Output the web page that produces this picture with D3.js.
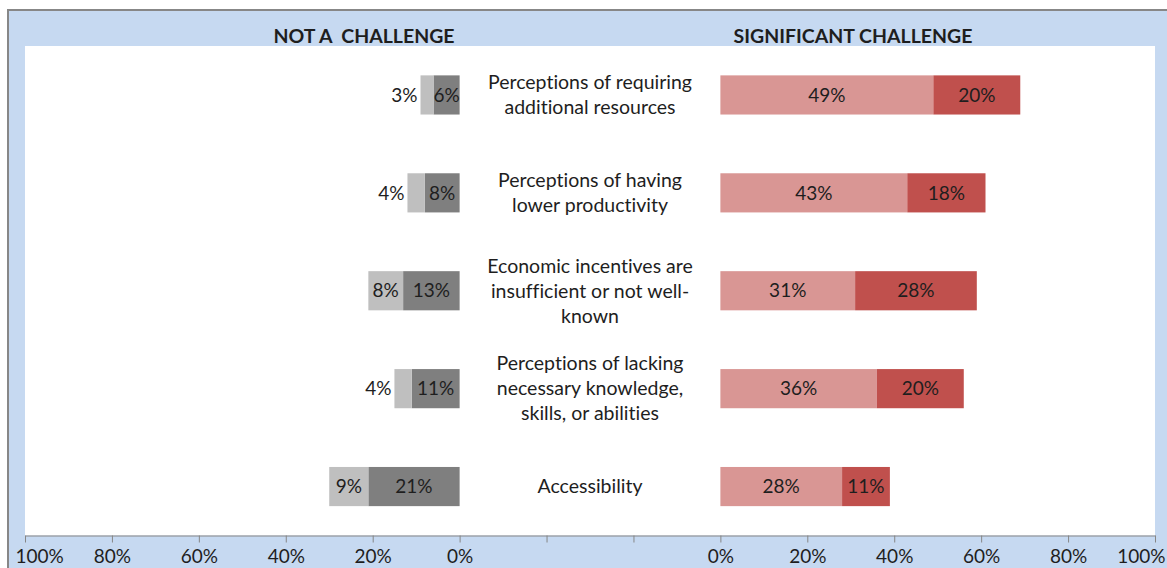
<!DOCTYPE html>
<html lang="en">
<head>
	<meta charset="UTF-8">
	<title>Challenges chart</title>
	<script type="text/javascript" src="https://d3js.org/d3.v7.min.js"></script>
	<style>
		body { margin: 0; background: #ffffff; }
		svg text { font-family: Lato, "Liberation Sans", sans-serif; fill: #1e1e1e; font-variant-ligatures: none; }
	</style>
</head>
<body>
	<script type="text/javascript">

		// data
		var categories = ["resources", "productivity", "incentives", "knowledge", "accessibility"];
		var categoryLines = [
			["Perceptions of requiring", "additional resources"],
			["Perceptions of having", "lower productivity"],
			["Economic incentives are", "insufficient or not well-", "known"],
			["Perceptions of lacking", "necessary knowledge,", "skills, or abilities"],
			["Accessibility"]
		];
		// not a challenge (left side): inner dark segment, outer light segment
		var notChallengeDark = [6, 8, 13, 11, 21];
		var notChallengeLight = [3, 4, 8, 4, 9];
		// significant challenge (right side): inner light segment, outer dark segment
		var sigChallengeLight = [49, 43, 31, 36, 28];
		var sigChallengeDark = [20, 18, 28, 20, 11];
		var tickLabels = ["100%", "80%", "60%", "40%", "20%", "0%", "", "", "0%", "20%", "40%", "60%", "80%", "100%"];
		var leftTitle = "NOT A  CHALLENGE";
		var rightTitle = "SIGNIFICANT CHALLENGE";

		var w = 1167;
		var h = 568;
		var fontSize = 19;

		var svg = d3.select("body")
					.append("svg")
					.attr("width", w)
					.attr("height", h);

		// chart area background + frame
		svg.append("rect")
			.attr("x", 8).attr("y", 10)
			.attr("width", w + 10).attr("height", h + 10)
			.attr("fill", "#c6d9f1")
			.attr("stroke", "#878787")
			.attr("stroke-width", 2);

		// plot area
		var plotLeft = 25, plotRight = 1155, plotTop = 46, plotBottom = 535.5;
		svg.append("rect")
			.attr("x", plotLeft).attr("y", plotTop)
			.attr("width", plotRight - plotLeft).attr("height", plotBottom - plotTop)
			.attr("fill", "#ffffff");

		// one continuous axis, 13 steps of 20%, the middle three hold the labels
		var pos = d3.scaleLinear()
					.domain([0, tickLabels.length - 1])
					.range([plotLeft, plotRight]);
		var leftScale = d3.scaleLinear().domain([0, 100]).range([pos(5), pos(0)]);
		var rightScale = d3.scaleLinear().domain([0, 100]).range([pos(8), pos(13)]);

		var y = d3.scaleBand()
					.domain(categories)
					.range([plotTop, plotBottom])
					.paddingInner(0.6)
					.paddingOuter(0.3);

		var axis = d3.axisBottom(pos)
					.tickValues(d3.range(tickLabels.length))
					.tickFormat(function(d){ return tickLabels[d]; })
					.tickSize(7)
					.tickSizeOuter(0);

		var gAxis = svg.append("g")
					.attr("transform", "translate(0," + plotBottom + ")")
					.call(axis);
		gAxis.select(".domain").attr("stroke", "#868686");
		gAxis.selectAll(".tick line").attr("stroke", "#868686");
		gAxis.selectAll(".tick text")
			.attr("y", 21)
			.attr("dy", "0.35em")
			.style("font-size", fontSize + "px")
			.attr("font-family", null)
			.attr("fill", "#1e1e1e");
		// edge labels are pushed inside the chart
		gAxis.selectAll(".tick text")
			.filter(function(d){ return d == 0; })
			.attr("text-anchor", "start").attr("x", -10);
		gAxis.selectAll(".tick text")
			.filter(function(d){ return d == tickLabels.length - 1; })
			.attr("text-anchor", "end").attr("x", 10);

		// titles
		svg.append("text")
			.attr("x", 364).attr("y", 36)
			.attr("dy", "0.35em")
			.attr("text-anchor", "middle")
			.style("white-space", "pre")
			.style("font-size", "19.5px")
			.style("font-weight", "bold")
			.text(leftTitle);
		svg.append("text")
			.attr("x", 853).attr("y", 36)
			.attr("dy", "0.35em")
			.attr("text-anchor", "middle")
			.style("font-size", "19.5px")
			.style("font-weight", "bold")
			.text(rightTitle);

		function addLabel(x, yy, txt, size){
			return svg.append("text")
				.attr("x", x).attr("y", yy)
				.attr("dy", "0.35em")
				.attr("text-anchor", "middle")
				.style("font-size", (size || fontSize) + "px")
				.text(txt);
		}

		for (var i = 0; i < categories.length; i++){
			var cat = categories[i];
			var barTop = y(cat);
			var bh = y.bandwidth();
			var cy = barTop + bh / 2;

			// left side
			var d1 = notChallengeDark[i], l1 = notChallengeLight[i];
			svg.append("rect")
				.attr("x", leftScale(d1)).attr("y", barTop)
				.attr("width", leftScale(0) - leftScale(d1)).attr("height", bh)
				.attr("fill", "#7f7f7f");
			svg.append("rect")
				.attr("x", leftScale(d1 + l1)).attr("y", barTop)
				.attr("width", leftScale(d1) - leftScale(d1 + l1)).attr("height", bh)
				.attr("fill", "#bfbfbf");
			addLabel((leftScale(0) + leftScale(d1)) / 2, cy, d1 + "%");
			var lt = addLabel((leftScale(d1) + leftScale(d1 + l1)) / 2, cy, l1 + "%");
			var segW = leftScale(d1) - leftScale(d1 + l1);
			if (lt.node().getComputedTextLength() > segW){
				lt.attr("text-anchor", "end").attr("x", leftScale(d1 + l1) - 3);
			}

			// right side
			var r1 = sigChallengeLight[i], r2 = sigChallengeDark[i];
			svg.append("rect")
				.attr("x", rightScale(0)).attr("y", barTop)
				.attr("width", rightScale(r1) - rightScale(0)).attr("height", bh)
				.attr("fill", "#d99694");
			svg.append("rect")
				.attr("x", rightScale(r1)).attr("y", barTop)
				.attr("width", rightScale(r1 + r2) - rightScale(r1)).attr("height", bh)
				.attr("fill", "#c0504d");
			addLabel((rightScale(0) + rightScale(r1)) / 2, cy, r1 + "%");
			addLabel((rightScale(r1) + rightScale(r1 + r2)) / 2, cy, r2 + "%");

			// category label in the middle
			var lines = categoryLines[i];
			var lineH = 25;
			var cx = (pos(5) + pos(8)) / 2;
			for (var j = 0; j < lines.length; j++){
				addLabel(cx, cy + (j - (lines.length - 1) / 2) * lineH, lines[j], 19.5);
			}
		}

	</script>
</body>
</html>
